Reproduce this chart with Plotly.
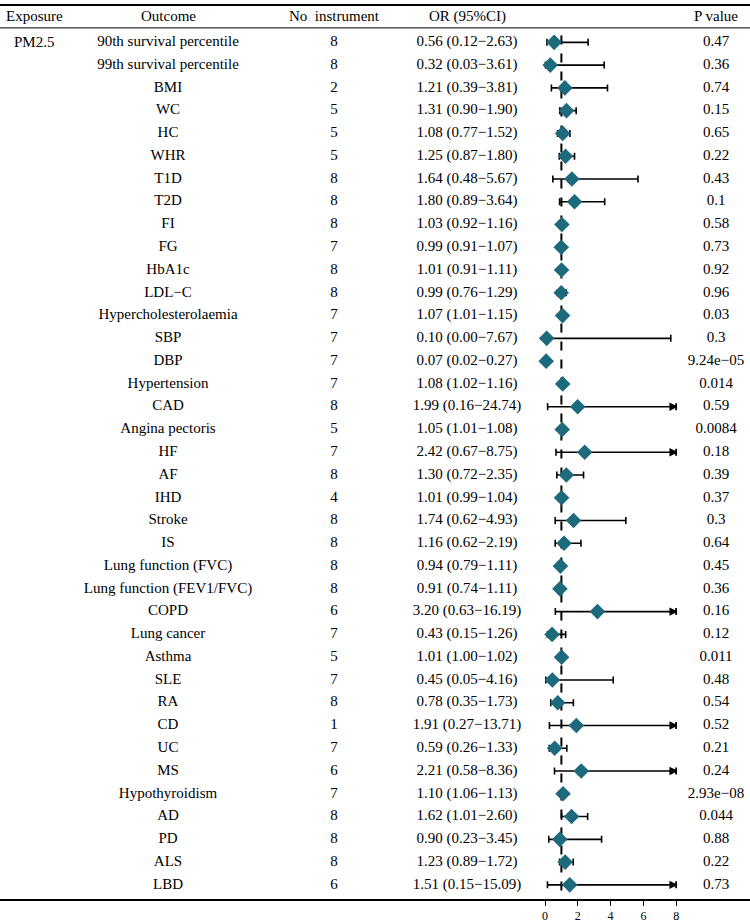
import plotly.graph_objects as go

outcomes = ["90th survival percentile", "99th survival percentile", "BMI", "WC", "HC", "WHR",
            "T1D", "T2D", "FI", "FG", "HbA1c", "LDL\u2212C", "Hypercholesterolaemia", "SBP", "DBP",
            "Hypertension", "CAD", "Angina pectoris", "HF", "AF", "IHD", "Stroke", "IS",
            "Lung function (FVC)", "Lung function (FEV1/FVC)", "COPD", "Lung cancer", "Asthma",
            "SLE", "RA", "CD", "UC", "MS", "Hypothyroidism", "AD", "PD", "ALS", "LBD"]
n_instr = [8, 8, 2, 5, 5, 5, 8, 8, 8, 7, 8, 8, 7, 7, 7, 7, 8, 5, 7, 8, 4, 8, 8, 8, 8, 6, 7, 5,
           7, 8, 1, 7, 6, 7, 8, 8, 8, 6]
or_val = [0.56, 0.32, 1.21, 1.31, 1.08, 1.25, 1.64, 1.80, 1.03, 0.99, 1.01, 0.99, 1.07, 0.10,
          0.07, 1.08, 1.99, 1.05, 2.42, 1.30, 1.01, 1.74, 1.16, 0.94, 0.91, 3.20, 0.43, 1.01,
          0.45, 0.78, 1.91, 0.59, 2.21, 1.10, 1.62, 0.90, 1.23, 1.51]
ci_low = [0.12, 0.03, 0.39, 0.90, 0.77, 0.87, 0.48, 0.89, 0.92, 0.91, 0.91, 0.76, 1.01, 0.00,
          0.02, 1.02, 0.16, 1.01, 0.67, 0.72, 0.99, 0.62, 0.62, 0.79, 0.74, 0.63, 0.15, 1.00,
          0.05, 0.35, 0.27, 0.26, 0.58, 1.06, 1.01, 0.23, 0.89, 0.15]
ci_high = [2.63, 3.61, 3.81, 1.90, 1.52, 1.80, 5.67, 3.64, 1.16, 1.07, 1.11, 1.29, 1.15, 7.67,
           0.27, 1.16, 24.74, 1.08, 8.75, 2.35, 1.04, 4.93, 2.19, 1.11, 1.11, 16.19, 1.26, 1.02,
           4.16, 1.73, 13.71, 1.33, 8.36, 1.13, 2.60, 3.45, 1.72, 15.09]
p_values = ["0.47", "0.36", "0.74", "0.15", "0.65", "0.22", "0.43", "0.1", "0.58", "0.73", "0.92",
            "0.96", "0.03", "0.3", "9.24e\u221205", "0.014", "0.59", "0.0084", "0.18", "0.39",
            "0.37", "0.3", "0.64", "0.45", "0.36", "0.16", "0.12", "0.011", "0.48", "0.54",
            "0.52", "0.21", "0.24", "2.93e\u221208", "0.044", "0.88", "0.22", "0.73"]
exposure = "PM2.5"
headers = ["Exposure", "Outcome", "No  instrument", "OR (95%CI)", "P value"]
x_ticks = [0, 2, 4, 6, 8]
x_cap = 8

W, H = 750, 923
FONT = "Liberation Serif"
FS = 15
TEAL = "#1d6a7c"

n = len(outcomes)
rows = list(range(n))
or_text = [f"{o:.2f} ({l:.2f}\u2212{h:.2f})" for o, l, h in zip(or_val, ci_low, ci_high)]
hi_clip = [min(h, x_cap) for h in ci_high]

# pixel geometry
row0_px, row_step = 42.5, 22.86
plot_bottom_px = 902.5
y_top = -row0_px / row_step
y_bot = (plot_bottom_px - row0_px) / row_step
x0_px, unit_px = 545.0, 16.4
x_min = -x0_px / unit_px
x_max = (W - x0_px) / unit_px


def px_to_x(px):
    return (px - x0_px) / unit_px


def py_to_y(py):
    return (py - row0_px) / row_step


fig = go.Figure()

# CI lines
fig.add_trace(go.Scatter(
    x=or_val, y=rows, mode="markers",
    marker=dict(size=0.1, color="rgba(0,0,0,0)"),
    error_x=dict(type="data", symmetric=False,
                 array=[h - o for h, o in zip(hi_clip, or_val)],
                 arrayminus=[o - l for o, l in zip(or_val, ci_low)],
                 color="black", thickness=1.6, width=3.5),
    hoverinfo="skip", showlegend=False))

# arrows for clipped upper CI
arr_y = [r for r, h in zip(rows, ci_high) if h > x_cap]
fig.add_trace(go.Scatter(
    x=[x_cap] * len(arr_y), y=arr_y, mode="markers",
    marker=dict(symbol="arrow-bar-right", size=6, color="black",
                line=dict(color="black", width=1.5)),
    hoverinfo="skip", showlegend=False))

# OR diamonds
fig.add_trace(go.Scatter(
    x=or_val, y=rows, mode="markers",
    marker=dict(symbol="diamond", size=12, color=TEAL, line=dict(width=0)),
    showlegend=False))

# reference line at OR = 1
fig.add_shape(type="line", xref="x", yref="y", x0=1, x1=1, y0=-0.3, y1=y_bot,
              line=dict(color="black", width=2, dash="dash"), layer="below")

# horizontal rules
fig.add_shape(type="line", xref="paper", yref="y", x0=0, x1=1,
              y0=py_to_y(5), y1=py_to_y(5), line=dict(color="black", width=2))
fig.add_shape(type="line", xref="paper", yref="y", x0=0, x1=1,
              y0=py_to_y(28), y1=py_to_y(28), line=dict(color="black", width=1))

col_x = [34, 168, 334, 467, 716]
hdr_y = py_to_y(16.5)

for cx, h in zip(col_x, headers):
    fig.add_annotation(x=px_to_x(cx), y=hdr_y, xref="x", yref="y", text=h, showarrow=False,
                       font=dict(family=FONT, size=FS, color="black"), xanchor="center",
                       yanchor="middle")

fig.add_annotation(x=px_to_x(col_x[0]), y=0, xref="x", yref="y", text=exposure,
                   showarrow=False, font=dict(family=FONT, size=FS, color="black"),
                   xanchor="center", yanchor="middle")

for col, vals in zip(col_x[1:], [outcomes, [str(v) for v in n_instr], or_text, p_values]):
    fig.add_trace(go.Scatter(
        x=[px_to_x(col)] * n, y=rows, mode="text", text=vals,
        textposition="middle center",
        textfont=dict(family=FONT, size=FS, color="black"),
        hoverinfo="skip", showlegend=False, cliponaxis=False))

fig.update_layout(
    width=W, height=H, margin=dict(l=0, r=0, t=0, b=H - plot_bottom_px, pad=0),
    plot_bgcolor="white", paper_bgcolor="white",
    xaxis=dict(range=[x_min, x_max], tickvals=x_ticks, ticks="outside", ticklen=5,
               tickwidth=1, tickcolor="black", showgrid=False, zeroline=False,
               showline=True, linecolor="black", linewidth=2,
               tickfont=dict(family=FONT, size=12, color="black")),
    yaxis=dict(range=[y_bot, y_top], showgrid=False, zeroline=False, showticklabels=False,
               showline=False, ticks=""),
)

fig.write_html("out.html", config={"displayModeBar": False},
               post_script="document.body.style.margin='0';document.body.style.overflow='hidden';")
